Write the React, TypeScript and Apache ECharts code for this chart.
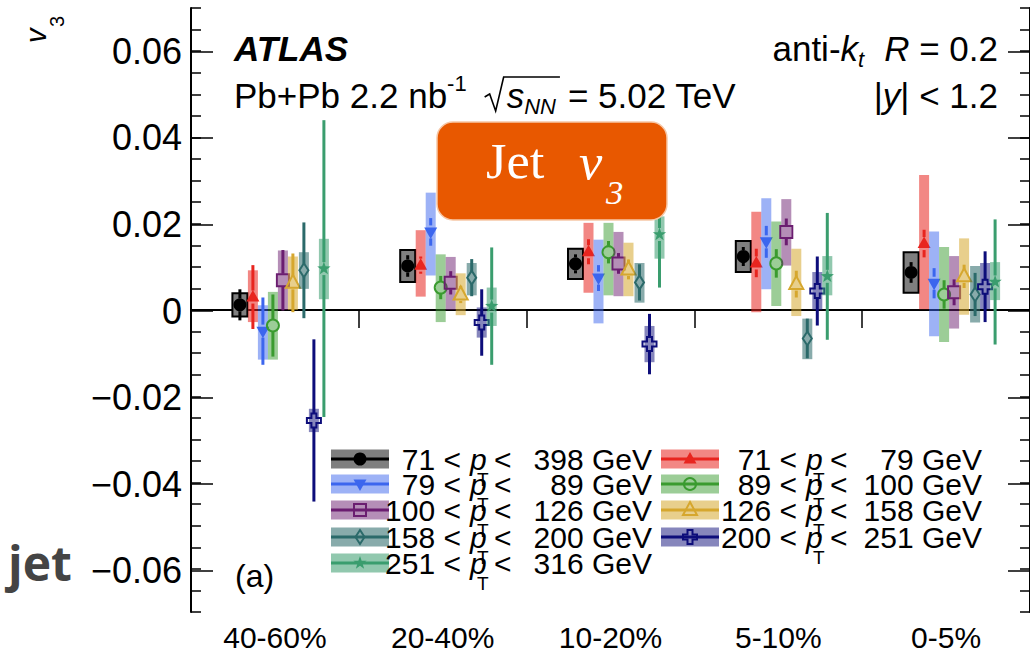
import React, { useEffect, useRef } from 'react';
import * as echarts from 'echarts';

// Centrality bins along the x axis
const centralityBins = ['40-60%', '20-40%', '10-20%', '5-10%', '0-5%'];

// Jet pT bins (GeV), in the order they are drawn inside each centrality bin
const ptLow = [71, 71, 79, 89, 100, 126, 158, 200, 251];
const ptHigh = [398, 79, 89, 100, 126, 158, 200, 251, 316];

// Jet v3 central values, one row per pT bin, one column per centrality bin
const v3Central = [
  [0.0012, 0.0102, 0.0107, 0.0124, 0.0087],
  [0.0030, 0.0104, 0.0135, 0.0109, 0.0154],
  [-0.0049, 0.0181, 0.0074, 0.0158, 0.0062],
  [-0.0036, 0.0052, 0.0134, 0.0108, 0.0036],
  [0.0069, 0.0063, 0.0108, 0.0181, 0.0041],
  [0.0063, 0.0036, 0.0094, 0.0060, 0.0078],
  [0.0092, 0.0075, 0.0064, -0.0066, 0.0036],
  [-0.0256, -0.0029, -0.0079, 0.0044, 0.0054],
  [0.0096, 0.0009, 0.0175, 0.0078, 0.0065],
];

// Statistical uncertainties (symmetric)
const v3Stat = [
  [0.0036, 0.0025, 0.0022, 0.0022, 0.0024],
  [0.0074, 0.0020, 0.0029, 0.0033, 0.0032],
  [0.0078, 0.0032, 0.0030, 0.0037, 0.0035],
  [0.0072, 0.0027, 0.0026, 0.0033, 0.0033],
  [0.0070, 0.0027, 0.0024, 0.0031, 0.0030],
  [0.0068, 0.0020, 0.0023, 0.0031, 0.0027],
  [0.0111, 0.0043, 0.0042, 0.0046, 0.0050],
  [0.0188, 0.0077, 0.0070, 0.0080, 0.0082],
  [0.0344, 0.0136, 0.0123, 0.0147, 0.0145],
];

// Systematic uncertainties, downward part
const v3SysLow = [
  [0.0027, 0.0037, 0.0035, 0.0036, 0.0047],
  [0.0058, 0.0073, 0.0095, 0.0114, 0.0152],
  [0.0066, 0.0101, 0.0105, 0.0110, 0.0123],
  [0.0079, 0.0080, 0.0100, 0.0099, 0.0110],
  [0.0069, 0.0063, 0.0076, 0.0078, 0.0084],
  [0.0063, 0.0048, 0.0062, 0.0074, 0.0089],
  [0.0043, 0.0041, 0.0047, 0.0048, 0.0065],
  [0.0027, 0.0035, 0.0042, 0.0044, 0.0052],
  [0.0071, 0.0046, 0.0056, 0.0044, 0.0042],
];

// Systematic uncertainties, upward part
const v3SysHigh = [
  [0.0027, 0.0037, 0.0035, 0.0036, 0.0047],
  [0.0062, 0.0081, 0.0067, 0.0119, 0.0159],
  [0.0060, 0.0091, 0.0089, 0.0101, 0.0120],
  [0.0078, 0.0077, 0.0068, 0.0097, 0.0110],
  [0.0069, 0.0060, 0.0073, 0.0076, 0.0084],
  [0.0061, 0.0049, 0.0062, 0.0082, 0.0088],
  [0.0042, 0.0034, 0.0045, 0.0046, 0.0066],
  [0.0027, 0.0035, 0.0042, 0.0044, 0.0055],
  [0.0069, 0.0043, 0.0042, 0.0047, 0.0046],
];

// Axis ranges
const yMin = -0.07;
const yMax = 0.07;
const yLabelTicks = [-0.06, 0.06];

// ---- styling ----
const SANS = 'Liberation Sans';
const COLORS = ['#000000', '#e8251f', '#3c66ee', '#3a9b2f', '#6b1d70', '#d6a72e', '#2b6a6a', '#0d0d7a', '#3a9d6e'];
const BOX = [
  '#7f7f7f',
  'rgba(232,37,31,0.55)',
  'rgba(60,102,238,0.5)',
  'rgba(58,155,47,0.5)',
  'rgba(107,29,112,0.5)',
  'rgba(214,167,46,0.55)',
  'rgba(43,106,106,0.56)',
  'rgba(13,13,122,0.5)',
  'rgba(58,157,110,0.56)',
];
const MARKERS = ['dot', 'triUp', 'triDown', 'ring', 'square', 'triOpen', 'diamond', 'cross', 'star'];
const DODGE = [-35, -22, -12, -2, 8, 18, 29, 39, 49];

const GRID = { left: 191, right: -1, top: 8, bottom: 38 };
const PLOT_H = 652 - GRID.top - GRID.bottom;
const PX_PER_UNIT = PLOT_H / (yMax - yMin);

function marker(kind: string, cx: number, cy: number, color: string): any {
  const open = { fill: 'none', stroke: color, lineWidth: 2 };
  const solid = { fill: color };
  switch (kind) {
    case 'dot':
      return { type: 'circle', shape: { cx, cy, r: 6.5 }, style: solid };
    case 'triUp':
      return { type: 'polygon', shape: { points: [[cx, cy - 7], [cx + 6.5, cy + 4.5], [cx - 6.5, cy + 4.5]] }, style: solid };
    case 'triDown':
      return { type: 'polygon', shape: { points: [[cx - 6.5, cy - 4.5], [cx + 6.5, cy - 4.5], [cx, cy + 7]] }, style: solid };
    case 'ring':
      return { type: 'circle', shape: { cx, cy, r: 6 }, style: open };
    case 'square':
      return { type: 'rect', shape: { x: cx - 6, y: cy - 6, width: 12, height: 12 }, style: open };
    case 'triOpen':
      return { type: 'polygon', shape: { points: [[cx, cy - 8], [cx + 7, cy + 5], [cx - 7, cy + 5]] }, style: open };
    case 'diamond':
      return { type: 'polygon', shape: { points: [[cx, cy - 7], [cx + 4.5, cy], [cx, cy + 7], [cx - 4.5, cy]] }, style: open };
    case 'cross': {
      const a = 2.5;
      const b = 7;
      return {
        type: 'polygon',
        shape: {
          points: [
            [cx - a, cy - b], [cx + a, cy - b], [cx + a, cy - a], [cx + b, cy - a], [cx + b, cy + a], [cx + a, cy + a],
            [cx + a, cy + b], [cx - a, cy + b], [cx - a, cy + a], [cx - b, cy + a], [cx - b, cy - a], [cx - a, cy - a],
          ],
        },
        style: open,
      };
    }
    default: {
      const pts: number[][] = [];
      for (let k = 0; k < 10; k++) {
        const r = k % 2 ? 2.8 : 7;
        const ang = -Math.PI / 2 + (k * Math.PI) / 5;
        pts.push([cx + r * Math.cos(ang), cy + r * Math.sin(ang)]);
      }
      return { type: 'polygon', shape: { points: pts }, style: solid };
    }
  }
}

// ---- text layout helpers ----
type Part = { t: string; size: number; italic?: boolean; bold?: boolean; dy?: number; family?: string; gap?: number };

let measureCtx: CanvasRenderingContext2D | null = null;
function fontOf(p: Part) {
  return `${p.italic ? 'italic ' : ''}${p.bold ? 'bold ' : ''}${p.size}px "${p.family || SANS}"`;
}
function widthOf(p: Part) {
  if (!measureCtx) measureCtx = document.createElement('canvas').getContext('2d');
  if (!p.t) return p.gap || 0;
  measureCtx!.font = fontOf(p);
  return measureCtx!.measureText(p.t).width + (p.gap || 0);
}
function textRun(x: number, y: number, parts: Part[], align: 'left' | 'right' = 'left', fill = '#000') {
  const widths = parts.map(widthOf);
  const total = widths.reduce((a, b) => a + b, 0);
  let cx = align === 'right' ? x - total : x;
  const els: any[] = [];
  const xs: number[] = [];
  parts.forEach((p, i) => {
    xs.push(cx);
    if (p.t) {
      els.push({
        type: 'text',
        silent: true,
        z: 20,
        style: { text: p.t, x: cx, y: y + (p.dy || 0), font: fontOf(p), fill, align: 'left', verticalAlign: 'middle' },
      });
    }
    cx += widths[i];
  });
  return { els, xs, end: cx };
}

function legendGraphics(): any[] {
  const out: any[] = [];
  const rows = [459, 484, 510, 537, 563];
  const cols = [
    { order: [0, 2, 4, 6, 8], sw: 331, numR: 461, p: 470, lt: 494, end: 652 },
    { order: [1, 3, 5, 7], sw: 661, numR: 797, p: 806, lt: 830, end: 982 },
  ];
  const fs = 30;
  cols.forEach((col) => {
    col.order.forEach((s, r) => {
      const y = rows[r];
      const swW = 58;
      const mid = col.sw + swW / 2;
      out.push({ type: 'rect', z: 20, silent: true, shape: { x: col.sw, y: y - 9.5, width: swW, height: 19 }, style: { fill: BOX[s] } });
      out.push({ type: 'line', z: 21, silent: true, shape: { x1: col.sw, y1: y, x2: col.sw + swW, y2: y }, style: { stroke: COLORS[s], lineWidth: 3 } });
      out.push({ ...marker(MARKERS[s], mid, y, COLORS[s]), z: 22, silent: true });
      out.push(...textRun(col.numR, y, [{ t: `${ptLow[s]} <`, size: fs }], 'right').els);
      out.push(...textRun(col.p, y, [{ t: 'p', size: fs, italic: true }]).els);
      out.push(...textRun(col.p + 7, y + 20, [{ t: 'T', size: 19 }]).els);
      out.push(...textRun(col.lt, y, [{ t: '<', size: fs }]).els);
      out.push(...textRun(col.end, y, [{ t: `${ptHigh[s]} GeV`, size: fs }], 'right').els);
    });
  });
  return out;
}

function headerGraphics(): any[] {
  const out: any[] = [];
  const fs = 35;
  out.push(...textRun(234, 48, [{ t: 'ATLAS', size: 35, bold: true, italic: true }]).els);

  const line2 = textRun(234, 95, [
    { t: 'Pb+Pb 2.2 nb', size: fs },
    { t: '-1', size: 22, dy: -12, gap: 20 },
    { t: '', size: fs, gap: 20 },
    { t: 's', size: fs, italic: true },
    { t: 'NN', size: 22, italic: true, dy: 11, gap: 12 },
    { t: '= 5.02 TeV', size: fs },
  ]);
  out.push(...line2.els);
  const rx = line2.xs[2];
  const barEnd = line2.xs[5] - 8;
  out.push({
    type: 'polyline',
    z: 20,
    silent: true,
    shape: { points: [[rx - 2, 97], [rx + 3, 94], [rx + 9, 111], [rx + 17, 77], [barEnd, 77]] },
    style: { stroke: '#000', lineWidth: 1.6, fill: 'none' },
  });

  out.push(
    ...textRun(998, 48, [
      { t: 'anti-', size: fs },
      { t: 'k', size: fs, italic: true },
      { t: 't', size: 22, italic: true, dy: 11, gap: 20 },
      { t: 'R', size: fs, italic: true },
      { t: ' = 0.2', size: fs },
    ], 'right').els,
  );
  out.push(
    ...textRun(998, 95, [
      { t: '|', size: fs },
      { t: 'y', size: fs, italic: true },
      { t: '| < 1.2', size: fs },
    ], 'right').els,
  );

  out.push(...textRun(235, 576, [{ t: '(a)', size: 32 }]).els);

  // y axis title, rotated
  out.push({
    type: 'group',
    x: 35.5,
    y: 43,
    rotation: Math.PI / 2,
    children: [
      { type: 'text', silent: true, style: { text: 'v', x: 0, y: 0, font: `italic 29px "${SANS}"`, fill: '#000', align: 'left', verticalAlign: 'middle' } },
      { type: 'text', silent: true, style: { text: '3', x: 16, y: 21, font: `20px "${SANS}"`, fill: '#000', align: 'left', verticalAlign: 'middle' } },
    ],
  });

  out.push({
    type: 'text',
    silent: true,
    z: 20,
    style: { text: 'jet', x: 8, y: 562, font: 'bold 48px "Open Sans"', fill: '#444444', align: 'left', verticalAlign: 'middle' },
  });

  // Orange title badge
  out.push({
    type: 'rect',
    z: 30,
    silent: true,
    shape: { x: 437, y: 122, width: 230, height: 98, r: 16 },
    style: { fill: '#e85800', stroke: '#f6c7a6', lineWidth: 1.5 },
  });
  out.push({
    type: 'text', z: 31, silent: true, x: 486, y: 161, scaleX: 1.05,
    style: { text: 'Jet', x: 0, y: 0, font: '50px "Liberation Serif"', fill: '#fff', align: 'left', verticalAlign: 'middle' },
  });
  out.push({
    type: 'text', z: 31, silent: true, x: 579, y: 162, scaleX: 1.05,
    style: { text: 'v', x: 0, y: 0, font: 'italic 50px "Liberation Serif"', fill: '#fff', align: 'left', verticalAlign: 'middle' },
  });
  out.push({
    type: 'text', z: 31, silent: true, x: 606, y: 193, scaleX: 1.05,
    style: { text: '3', x: 0, y: 0, font: 'italic 33px "Liberation Serif"', fill: '#fff', align: 'left', verticalAlign: 'middle' },
  });
  return out;
}

function fmtTick(v: number) {
  if (Math.abs(v) < 1e-9) return '0';
  return (v < 0 ? '\u2212' : '') + Math.abs(v).toFixed(2);
}

function buildOption(): any {
  const labelGrid = {
    left: GRID.left,
    right: GRID.right,
    top: GRID.top + (yMax - yLabelTicks[1]) * PX_PER_UNIT,
    bottom: GRID.bottom + (yLabelTicks[0] - yMin) * PX_PER_UNIT,
  };
  const frame = { lineStyle: { color: '#000', width: 2 } };

  const dataSeries = v3Central.map((row, s) => ({
    type: 'custom',
    name: `${ptLow[s]}-${ptHigh[s]} GeV`,
    xAxisIndex: 1,
    yAxisIndex: 0,
    silent: true,
    z: 3 + s,
    data: row.map((v, c) => [c, v, v3Stat[s][c], v3SysLow[s][c], v3SysHigh[s][c]]),
    encode: { x: 0, y: 1 },
    renderItem: (_p: any, api: any) => {
      const c = api.value(0) as number;
      const v = api.value(1) as number;
      const st = api.value(2) as number;
      const lo = api.value(3) as number;
      const hi = api.value(4) as number;
      const pt = api.coord([c + 0.5, v]);
      const xc = pt[0] + DODGE[s];
      const y = pt[1];
      const yHi = api.coord([c + 0.5, v + hi])[1];
      const yLo = api.coord([c + 0.5, v - lo])[1];
      const sHi = api.coord([c + 0.5, v + st])[1];
      const sLo = api.coord([c + 0.5, v - st])[1];
      const w = s === 0 ? 15 : 10;
      const children: any[] = [
        {
          type: 'rect',
          shape: { x: xc - w / 2, y: yHi, width: w, height: yLo - yHi },
          style: s === 0 ? { fill: BOX[0], stroke: '#000', lineWidth: 2 } : { fill: BOX[s] },
        },
      ];
      const gap = 6.5;
      if (sHi < y - gap) children.push({ type: 'line', shape: { x1: xc, y1: sHi, x2: xc, y2: y - gap }, style: { stroke: COLORS[s], lineWidth: 3 } });
      if (sLo > y + gap) children.push({ type: 'line', shape: { x1: xc, y1: y + gap, x2: xc, y2: sLo }, style: { stroke: COLORS[s], lineWidth: 3 } });
      children.push(marker(MARKERS[s], xc, y, COLORS[s]));
      return { type: 'group', children };
    },
  }));

  return {
    animation: false,
    backgroundColor: '#ffffff',
    grid: [
      { ...GRID, containLabel: false },
      { ...labelGrid, containLabel: false },
    ],
    xAxis: [
      {
        type: 'category',
        gridIndex: 0,
        position: 'bottom',
        data: centralityBins,
        axisLine: frame,
        axisTick: { inside: true, length: 18, lineStyle: { color: '#000', width: 1.5 } },
        axisLabel: { fontSize: 30, fontFamily: SANS, color: '#000', margin: 10 },
        splitLine: { show: false },
      },
      {
        type: 'value',
        gridIndex: 0,
        position: 'top',
        min: 0,
        max: centralityBins.length,
        interval: 1,
        axisLine: frame,
        axisTick: { inside: true, length: 18, lineStyle: { color: '#000', width: 1.5 } },
        axisLabel: { show: false },
        splitLine: { show: false },
      },
      { type: 'value', gridIndex: 1, show: false, min: 0, max: 1 },
    ],
    yAxis: [
      {
        type: 'value',
        gridIndex: 0,
        position: 'left',
        min: yMin,
        max: yMax,
        interval: 0.005,
        axisLine: frame,
        axisTick: { inside: true, length: 10, lineStyle: { color: '#000', width: 1.5 } },
        axisLabel: { show: false },
        splitLine: { show: false },
      },
      {
        type: 'value',
        gridIndex: 0,
        position: 'right',
        min: yMin,
        max: yMax,
        interval: 0.005,
        axisLine: frame,
        axisTick: { inside: true, length: 10, lineStyle: { color: '#000', width: 1.5 } },
        axisLabel: { show: false },
        splitLine: { show: false },
      },
      {
        type: 'value',
        gridIndex: 1,
        position: 'left',
        min: yLabelTicks[0],
        max: yLabelTicks[1],
        interval: 0.02,
        axisLine: { show: false },
        axisTick: { show: true, inside: true, length: 22, lineStyle: { color: '#000', width: 1.5 } },
        axisLabel: { fontSize: 36, fontFamily: SANS, color: '#000', margin: 9, formatter: fmtTick },
        splitLine: { show: false },
      },
      {
        type: 'value',
        gridIndex: 1,
        position: 'right',
        min: yLabelTicks[0],
        max: yLabelTicks[1],
        interval: 0.02,
        axisLine: { show: false },
        axisTick: { show: true, inside: true, length: 22, lineStyle: { color: '#000', width: 1.5 } },
        axisLabel: { show: false },
        splitLine: { show: false },
      },
    ],
    series: [
      {
        type: 'line',
        xAxisIndex: 1,
        yAxisIndex: 0,
        silent: true,
        symbol: 'none',
        z: 1,
        data: [[0, 0], [centralityBins.length, 0]],
        lineStyle: { color: '#000', width: 1.5, type: [8, 6] },
      },
      ...dataSeries,
    ],
    graphic: [...legendGraphics(), ...headerGraphics()],
  };
}

export default function App() {
  const ref = useRef<HTMLDivElement>(null);
  useEffect(() => {
    if (!ref.current) return;
    const chart = echarts.init(ref.current, null, { renderer: 'svg' });
    chart.setOption(buildOption());
    return () => chart.dispose();
  }, []);
  return <div ref={ref} style={{ position: 'fixed', left: 0, top: 0, width: 1030, height: 652, background: '#fff' }} />;
}
